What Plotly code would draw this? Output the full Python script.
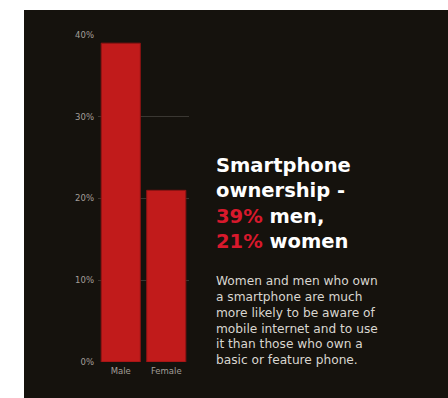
import plotly.graph_objects as go

# Chart data
categories = ["Male", "Female"]
ownership_pct = [39, 21]
y_ticks = [0, 10, 20, 30, 40]
y_tick_labels = ["0%", "10%", "20%", "30%", "40%"]

title_lines = [
    "Smartphone",
    "ownership -",
    "<span style='color:#d8192c'>39%</span> men,",
    "<span style='color:#d8192c'>21%</span> women",
]
body_lines = [
    "Women and men who own",
    "a smartphone are much",
    "more likely to be aware of",
    "mobile internet and to use",
    "it than those who own a",
    "basic or feature phone.",
]

W, H = 448, 398
BG = "#15120d"
PLOT_L, PLOT_R, PLOT_T, PLOT_B = 98, 189, 35, 362


def px_x(x):
    return (x - PLOT_L) / (PLOT_R - PLOT_L)


def px_y(y):
    return (PLOT_B - y) / (PLOT_B - PLOT_T)


fig = go.Figure(
    go.Bar(
        x=categories,
        y=ownership_pct,
        marker=dict(color="#c11b1b", line=dict(color="#8e1313", width=1)),
        width=0.86,
    )
)

shapes = [
    # white margins at left and top of the dark card
    dict(type="rect", xref="paper", yref="paper", x0=px_x(0), x1=px_x(24),
         y0=px_y(H), y1=px_y(0), fillcolor="white", line_width=0, layer="above"),
    dict(type="rect", xref="paper", yref="paper", x0=px_x(0), x1=px_x(W),
         y0=px_y(10), y1=px_y(0), fillcolor="white", line_width=0, layer="above"),
]

annotations = [
    dict(
        text="<br>".join(title_lines), xref="paper", yref="paper",
        x=px_x(214), y=px_y(152), xanchor="left", yanchor="top", align="left",
        showarrow=False,
        font=dict(family="DejaVu Sans", size=19.5, color="white", weight="bold"),
    ),
    dict(
        text="<br>".join(body_lines), xref="paper", yref="paper",
        x=px_x(214), y=px_y(272), xanchor="left", yanchor="top", align="left",
        showarrow=False,
        font=dict(family="DejaVu Sans", size=12.2, color="#d9d6d0"),
    ),
]

fig.update_layout(
    width=W, height=H,
    margin=dict(l=PLOT_L, r=W - PLOT_R, t=PLOT_T, b=H - PLOT_B),
    paper_bgcolor=BG, plot_bgcolor=BG,
    showlegend=False,
    shapes=shapes,
    annotations=annotations,
    xaxis=dict(
        showgrid=False, showline=False, zeroline=False,
        tickfont=dict(family="DejaVu Sans", size=8.5, color="#a29e98"),
        ticks="", range=[-0.5, 1.5], ticklabelstandoff=2,
    ),
    yaxis=dict(
        range=[0, 40], tickvals=y_ticks, ticktext=y_tick_labels,
        showgrid=True, gridcolor="#3a3732", gridwidth=1,
        zeroline=False, showline=False, ticks="",
        tickfont=dict(family="DejaVu Sans", size=8.5, color="#a29e98"),
        ticklabelstandoff=3,
    ),
)

fig.write_html("out.html")
